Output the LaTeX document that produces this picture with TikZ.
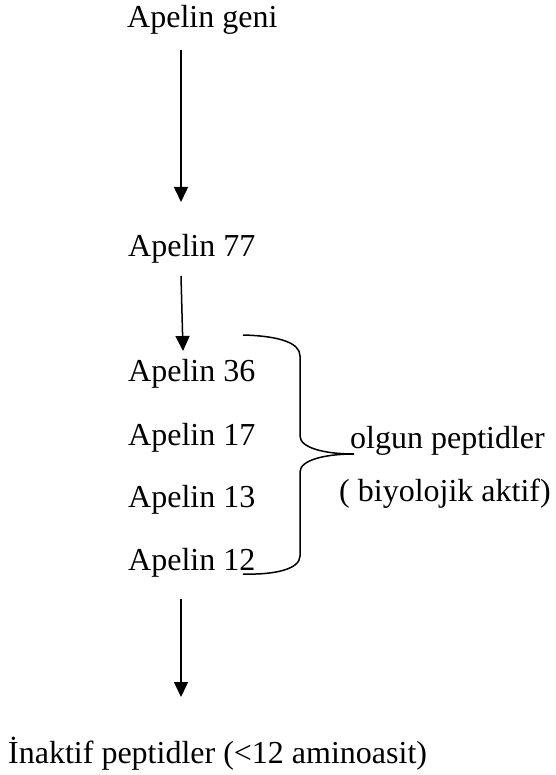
\documentclass[tikz,border=0pt]{standalone}
\usepackage{fontspec}
\setmainfont{Liberation Serif}
\usetikzlibrary{arrows.meta}
\begin{document}
\begin{tikzpicture}[x=1pt,y=-1pt,
  lbl/.style={anchor=base west,inner sep=0pt,font=\fontsize{32}{38}\selectfont},
  arr/.style={line width=1.5pt,-{Triangle[width=14pt,length=15pt]}},
  brace/.style={line width=1.5pt}]
\useasboundingbox (0,0) rectangle (555,775);
\node[lbl] (geni) at (127,28) {Apelin geni};
\node[lbl] (a77) at (128,257) {Apelin 77};
\node[lbl] (a36) at (128,381) {Apelin 36};
\node[lbl] (a17) at (128,445) {Apelin 17};
\node[lbl] (a13) at (128,507) {Apelin 13};
\node[lbl] (a12) at (128,570) {Apelin 12};
\node[lbl] (olgun) at (350,448) {olgun peptidler};
\node[lbl] (biyo) at (339,501) {( biyolojik aktif)};
\node[lbl] (inaktif) at (8,763) {İnaktif peptidler (<12 aminoasit)};
\coordinate (s1) at (181,50);
\coordinate (e1) at (181,202);
\coordinate (s2) at (181,276);
\coordinate (e2) at (183,351);
\coordinate (s3) at (181,599);
\coordinate (e3) at (181,697);
\draw[arr] (s1) -- (e1);
\draw[arr] (s2) -- (e2);
\draw[arr] (s3) -- (e3);
\coordinate (btop) at (243,335);
\coordinate (btip) at (354,454);
\coordinate (bbot) at (243,574);
\draw[brace] (btop) .. controls (280,336) and (300,343) .. (300,356)
  -- (300,436) .. controls (300,448) and (325,454) .. (btip)
  .. controls (325,454) and (300,460) .. (300,472)
  -- (300,556) .. controls (300,569) and (275,575) .. (bbot);
\end{tikzpicture}
\end{document}
